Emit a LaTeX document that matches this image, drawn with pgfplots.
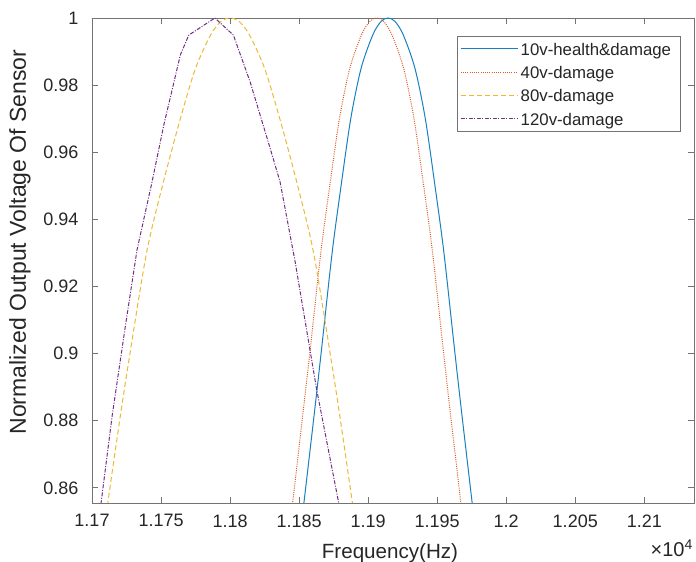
\documentclass[border=0pt]{standalone}
\usepackage{fontspec}
\setmainfont{Liberation Sans}
\usepackage{pgfplots}
\pgfplotsset{compat=1.18}
\definecolor{mblue}{rgb}{0.1,0.5,0.75}
\definecolor{morange}{rgb}{0.85,0.36,0.15}
\definecolor{myellow}{rgb}{0.929,0.72,0.2}
\definecolor{mpurple}{rgb}{0.45,0.18,0.52}
\definecolor{axgray}{gray}{0.45}
\begin{document}
\begin{tikzpicture}
\begin{axis}[
  scale only axis, width=602pt, height=485pt,
  xmin=11700, xmax=12136, ymin=0.8555, ymax=1,
  axis line style={axgray, line width=0.8pt},
  tick align=inside, major tick length=6pt,
  every tick/.style={axgray, line width=0.8pt},
  xtick={11700,11750,11800,11850,11900,11950,12000,12050,12100},
  xticklabels={1.17,1.175,1.18,1.185,1.19,1.195,1.2,1.205,1.21},
  ytick={0.86,0.88,0.90,0.92,0.94,0.96,0.98,1},
  yticklabels={0.86,0.88,0.9,0.92,0.94,0.96,0.98,1},
  scaled x ticks=false,
  /pgf/number format/assume math mode=true,
  tick label style={font=\fontsize{18}{21}\selectfont, text=black!85},
  xticklabel style={yshift=-8pt},
  yticklabel style={xshift=-10pt},
  xlabel={Frequency(Hz)},
  ylabel={Normalized Output Voltage Of Sensor},
  xlabel style={at={(axis description cs:0.495,-0.1134)}, anchor=base, font=\fontsize{20.6}{24}\selectfont, text=black!85},
  ylabel style={at={(axis description cs:-0.110,0.538)}, anchor=base, rotate=0, font=\fontsize{23}{27}\selectfont, text=black!85},
  legend cell align=left,
  legend image code/.code={\draw[#1] (0pt,0pt) -- (57pt,0pt);},
  legend style={at={(rel axis cs:1,1)}, anchor=north east, xshift=-13pt, yshift=-18pt,
    draw=axgray, line width=0.8pt, fill=white,
    font=\fontsize{16.8}{20}\selectfont, text=black!85,
    inner xsep=3pt, inner ysep=0.85pt,
    nodes={inner xsep=2.5pt, inner ysep=0pt, text height=18.15pt, text depth=5.15pt}},
]
\addplot[mblue, line width=1pt, smooth] coordinates {
(11851.9,0.85) (11860.4,0.88) (11865.9,0.90) (11873.9,0.93) (11880.4,0.95)
(11887.4,0.97) (11894.9,0.985) (11903.4,0.995) (11909.4,0.999) (11914.4,1.0)
(11919.4,0.999) (11925.4,0.995) (11933.9,0.985) (11941.4,0.97) (11948.4,0.95)
(11954.9,0.93) (11962.9,0.90) (11968.4,0.88) (11976.9,0.85)};
\addlegendentry{10v-health\&damage\hspace*{4pt}}
\addplot[morange, line width=1pt, dash pattern=on 1pt off 1.2pt, smooth] coordinates {
(11843.7,0.85) (11852.2,0.88) (11857.7,0.90) (11865.7,0.93) (11872.2,0.95)
(11879.2,0.97) (11886.7,0.985) (11895.2,0.995) (11901.2,0.999) (11906.2,1.0)
(11911.2,0.999) (11917.2,0.995) (11925.7,0.985) (11933.2,0.97) (11940.2,0.95)
(11946.7,0.93) (11954.7,0.90) (11960.2,0.88) (11968.7,0.85)};
\addlegendentry{40v-damage}
\addplot[myellow, line width=1pt, dash pattern=on 5pt off 3pt, smooth] coordinates {
(11709.5,0.85) (11720,0.88) (11727.5,0.90) (11739.5,0.93) (11751,0.95)
(11764,0.97) (11775,0.985) (11786,0.995) (11793.5,0.999) (11800,1.0)
(11806.5,0.999) (11814,0.995) (11825,0.985) (11836,0.97) (11849,0.95)
(11860.5,0.93) (11872.5,0.90) (11880,0.88) (11890.5,0.85)};
\addlegendentry{80v-damage}
\addplot[mpurple, line width=1pt, dash pattern=on 4pt off 1.5pt on 1pt off 1.5pt] coordinates {
(11705.1,0.8504) (11706.7,0.8559) (11714.5,0.8812) (11724.1,0.9080) (11732.6,0.9309)
(11743.5,0.9512) (11752.0,0.9681) (11764.0,0.9890) (11770.1,0.9949) (11789.0,1.0)
(11802.4,0.9949) (11814.5,0.9810) (11829.0,0.9612) (11836.2,0.9512) (11847.1,0.9274)
(11862.8,0.8891) (11878.5,0.8559) (11881.0,0.8504)};
\addlegendentry{120v-damage}
\coordinate (bl) at (rel axis cs:0,0);
\coordinate (tr) at (rel axis cs:1,1);
\end{axis}
\node[anchor=base east, inner sep=0pt, font=\fontsize{20}{23}\selectfont, text=black!85] at ([shift={(-1pt,-54pt)}]tr|-bl) {×10\textsuperscript{4}};
\pgfresetboundingbox
\path ([shift={(-92pt,-59pt)}]bl) rectangle ([shift={(2pt,18pt)}]tr);
\end{tikzpicture}
\end{document}
